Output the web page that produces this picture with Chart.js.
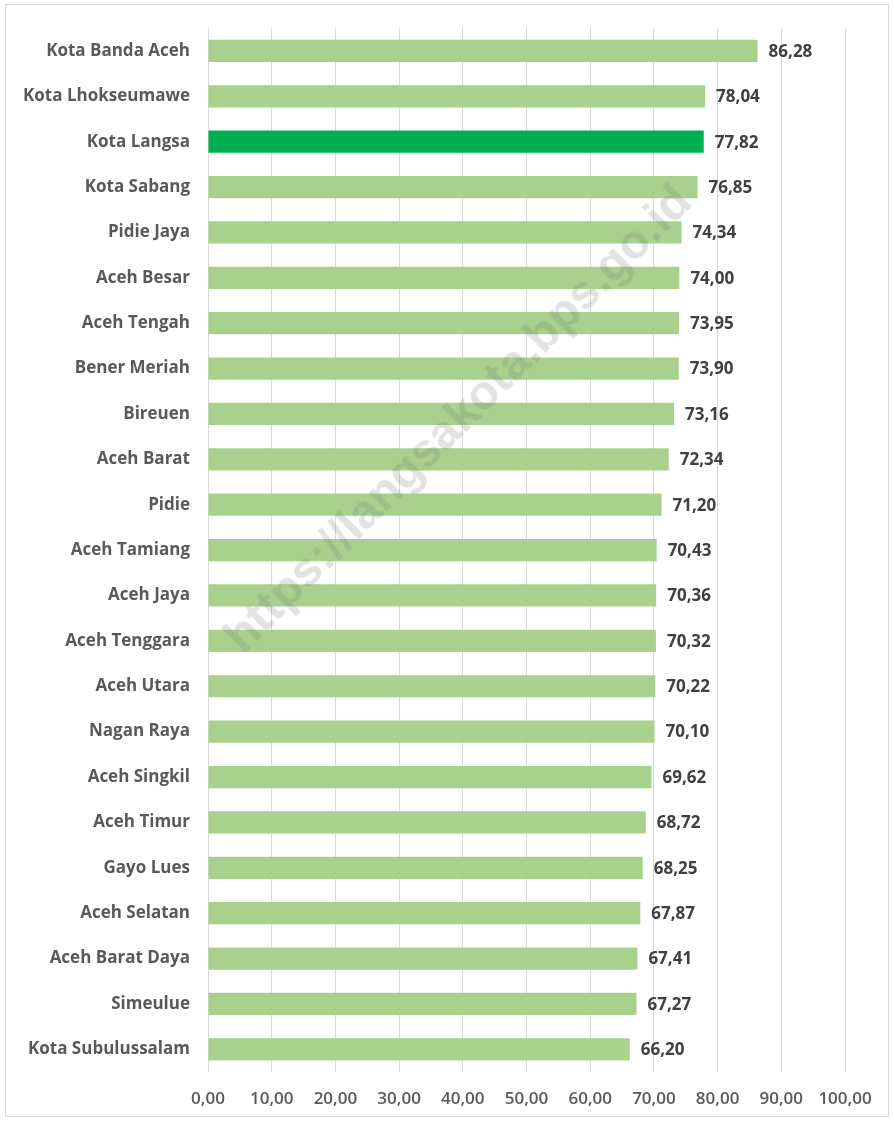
<!DOCTYPE html>
<html>
<head>
<meta charset="utf-8">
<script src="https://cdn.jsdelivr.net/npm/chart.js@4.4.1/dist/chart.umd.min.js"></script>
<style>
	html, body { margin: 0; padding: 0; background: #fff; }
	#wrap { position: relative; width: 894px; height: 1122px; }
	#frame { position: absolute; left: 5px; top: 4px; width: 884px; height: 1113px; border: 1px solid #d9d9d9; box-sizing: border-box; }
	#mycanvas { position: absolute; left: 0; top: 0; }
	#wm { position: absolute; left: 457px; top: 418px; transform: translate(-50%, -50%) rotate(-45deg);
		font-family: "Liberation Sans", Arial, sans-serif; font-weight: bold; font-size: 48px;
		color: rgba(110, 110, 110, 0.2); white-space: nowrap; pointer-events: none; }
</style>
</head>
<body>
<div id="wrap">
	<div id="frame"></div>
	<canvas id="mycanvas" width="894" height="1122"></canvas>
	<div id="wm">https://langsakota.bps.go.id</div>
</div>
<script>
var regions = ["Kota Banda Aceh", "Kota Lhokseumawe", "Kota Langsa", "Kota Sabang", "Pidie Jaya",
	"Aceh Besar", "Aceh Tengah", "Bener Meriah", "Bireuen", "Aceh Barat", "Pidie", "Aceh Tamiang",
	"Aceh Jaya", "Aceh Tenggara", "Aceh Utara", "Nagan Raya", "Aceh Singkil", "Aceh Timur",
	"Gayo Lues", "Aceh Selatan", "Aceh Barat Daya", "Simeulue", "Kota Subulussalam"];
var values = [86.28, 78.04, 77.82, 76.85, 74.34, 74.00, 73.95, 73.90, 73.16, 72.34, 71.20, 70.43,
	70.36, 70.32, 70.22, 70.10, 69.62, 68.72, 68.25, 67.87, 67.41, 67.27, 66.20];
var highlight = "Kota Langsa";

function fmt(v) {
	return v.toFixed(2).replace(".", ",");
}

var colors = [];
for (var i in regions) {
	colors.push(regions[i] == highlight ? "#00b050" : "#a9d18e");
}

var valueLabels = {
	id: "valueLabels",
	afterDatasetsDraw: function(chart) {
		var ctx = chart.ctx;
		var meta = chart.getDatasetMeta(0);
		ctx.save();
		ctx.font = "bold 17px 'Open Sans', sans-serif";
		ctx.fillStyle = "#404040";
		ctx.textAlign = "left";
		ctx.textBaseline = "middle";
		meta.data.forEach(function(bar, i) {
			ctx.fillText(fmt(values[i]), bar.x + 11, bar.y + 1);
		});
		ctx.restore();
	}
};

var chartdata = {
	labels: regions,
	datasets: [
		{
			backgroundColor: colors,
			borderWidth: 0,
			categoryPercentage: 1,
			barPercentage: 0.49,
			data: values
		}
	]
};

new Chart(document.getElementById("mycanvas"), {
	type: "bar",
	data: chartdata,
	plugins: [valueLabels],
	options: {
		indexAxis: "y",
		responsive: false,
		animation: false,
		layout: { padding: { top: 27, right: 49, bottom: 0, left: 0 } },
		plugins: { legend: { display: false }, tooltip: { enabled: false } },
		scales: {
			x: {
				min: 0,
				max: 100,
				ticks: {
					stepSize: 10,
					padding: 17,
					color: "#595959",
					font: { family: "'Open Sans', sans-serif", size: 17, weight: "600" },
					callback: function(v) { return fmt(v); }
				},
				grid: { color: "#d9d9d9", drawTicks: false },
				border: { display: false },
				afterFit: function(s) { s.height = 50; }
			},
			y: {
				ticks: {
					padding: 18,
					color: "#595959",
					font: { family: "'Open Sans', sans-serif", size: 17, weight: "bold" }
				},
				grid: { display: false, drawTicks: false },
				border: { display: false },
				afterFit: function(s) { s.width = 208; }
			}
		}
	}
});
</script>
</body>
</html>
